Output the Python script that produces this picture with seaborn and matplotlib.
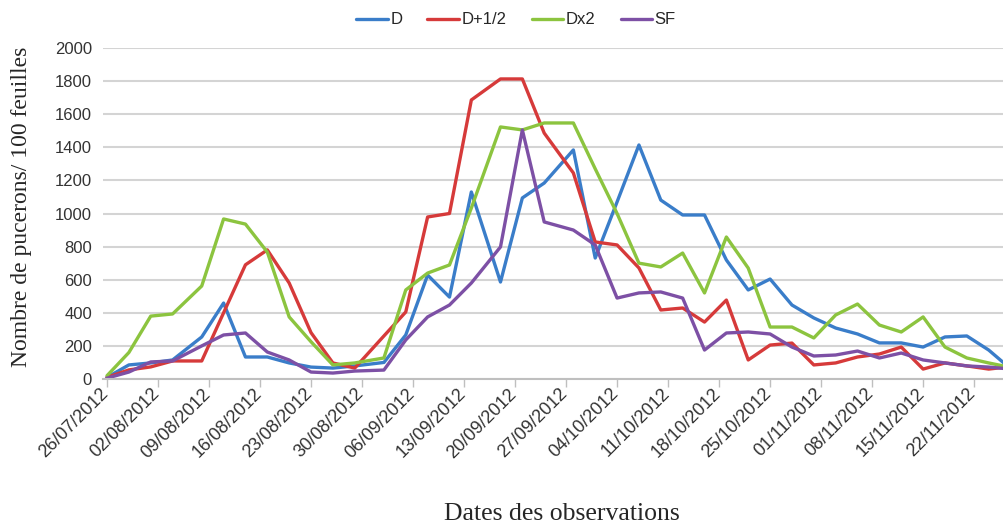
import numpy as np
import pandas as pd
import matplotlib
matplotlib.use("Agg")
import matplotlib.pyplot as plt
import matplotlib.transforms as mtransforms
import seaborn as sns

# ---- data ----
start_date = "2012-07-26"
obs_days = [0, 3, 6, 9, 13, 16, 19, 22, 25, 28, 31, 34, 38, 41, 44, 47, 50, 54, 57, 60,
            64, 67, 70, 73, 76, 79, 82, 85, 88, 91, 94, 97, 100, 103, 106, 109, 112, 115,
            118, 121, 124]
series_names = ["D", "D+1/2", "Dx2", "SF"]
D = [10, 85, 97, 115, 254, 459, 133, 133, 97, 72, 66, 79, 100, 266, 628, 495, 1130, 586,
     1094, 1184, 1384, 731, 1070, 1414, 1081, 991, 991, 719, 538, 604, 447, 369, 308, 272,
     218, 218, 193, 254, 260, 175, 62]
D_half = [10, 55, 73, 109, 109, 400, 690, 780, 580, 280, 97, 66, 260, 405, 979, 1000, 1686,
          1813, 1813, 1486, 1245, 828, 810, 671, 417, 429, 344, 477, 115, 205, 217, 85, 97,
          133, 151, 193, 60, 97, 79, 60, 75]
Dx2 = [20, 160, 380, 393, 562, 967, 936, 767, 375, 225, 85, 97, 127, 538, 640, 689, 1033,
       1523, 1505, 1547, 1547, 1270, 1000, 700, 677, 761, 520, 858, 670, 314, 314, 248, 387,
       453, 326, 284, 375, 193, 127, 97, 70]
SF = [5, 42, 103, 109, 200, 266, 278, 163, 115, 42, 36, 48, 54, 236, 375, 447, 580, 798,
      1505, 949, 900, 810, 489, 520, 526, 489, 175, 278, 284, 272, 193, 139, 145, 169, 127,
      157, 115, 97, 79, 72, 60]
colors = ["#3A7DC9", "#D63A3A", "#8CC43F", "#7D50A5"]
y_ticks = list(range(0, 2001, 200))

dates = pd.Timestamp(start_date) + pd.to_timedelta(obs_days, unit="D")
df = pd.DataFrame({"date": dates, "D": D, "D+1/2": D_half, "Dx2": Dx2, "SF": SF})
long = df.melt(id_vars="date", var_name="serie", value_name="val")

sns.set_style("white")
plt.rcParams["font.family"] = ["Liberation Sans", "DejaVu Sans"]

fig = plt.figure(figsize=(10.04, 5.27), dpi=100)
ax = fig.add_axes([103 / 1004, 1 - 379 / 527, (1004 - 103) / 1004, (379 - 48) / 527])

sns.lineplot(data=long, x="date", y="val", hue="serie", hue_order=series_names,
             palette=colors, linewidth=2.4, ax=ax, legend=True)

t0 = pd.Timestamp(start_date)
ax.set_xlim(t0 - pd.Timedelta(days=0.55), t0 + pd.Timedelta(days=123.1))
ax.set_ylim(0, 2000)
ax.set_yticks(y_ticks)
ax.set_yticklabels([str(v) for v in y_ticks], fontsize=12, color="#333333")
ax.yaxis.grid(True, color="#D4D4D4", linewidth=1.5)
ax.xaxis.grid(False)
ax.set_axisbelow(True)

week_ticks = pd.date_range(start_date, "2012-11-22", freq="7D")
ax.set_xticks(week_ticks)
ax.set_xticklabels([d.strftime("%d/%m/%Y") for d in week_ticks], rotation=45,
                   ha="right", rotation_mode="anchor", fontsize=13, color="#333333")
ax.tick_params(axis="x", which="major", length=6, width=1, color="#BFBFBF",
               direction="out", pad=0, bottom=True)
ax.tick_params(axis="y", length=0, pad=8)
shift = mtransforms.ScaledTranslation(-7 / 100, 2 / 100, fig.dpi_scale_trans)
for lab in ax.get_xticklabels():
    lab.set_transform(lab.get_transform() + shift)

for s in ["top", "right", "left"]:
    ax.spines[s].set_visible(False)
ax.spines["bottom"].set_color("#BFBFBF")
ax.spines["bottom"].set_linewidth(1.5)

ax.set_xlabel("Dates des observations", fontsize=18.5, family="Liberation Serif")
ax.xaxis.set_label_coords(0.509, -0.375)
ax.set_ylabel("Nombre de pucerons/ 100 feuilles", fontsize=17, family="Liberation Serif")
ax.yaxis.set_label_coords(-0.079, 0.52)

handles, labels = ax.get_legend_handles_labels()
ax.get_legend().remove()
leg = fig.legend(handles, labels, loc="upper center", bbox_to_anchor=(0.514, 1.005),
                 ncol=4, frameon=False, fontsize=12, handlelength=1.9,
                 handletextpad=0.15, columnspacing=1.5)
for line in leg.get_lines():
    line.set_linewidth(2.4)

fig.savefig("out.png", dpi=100)
